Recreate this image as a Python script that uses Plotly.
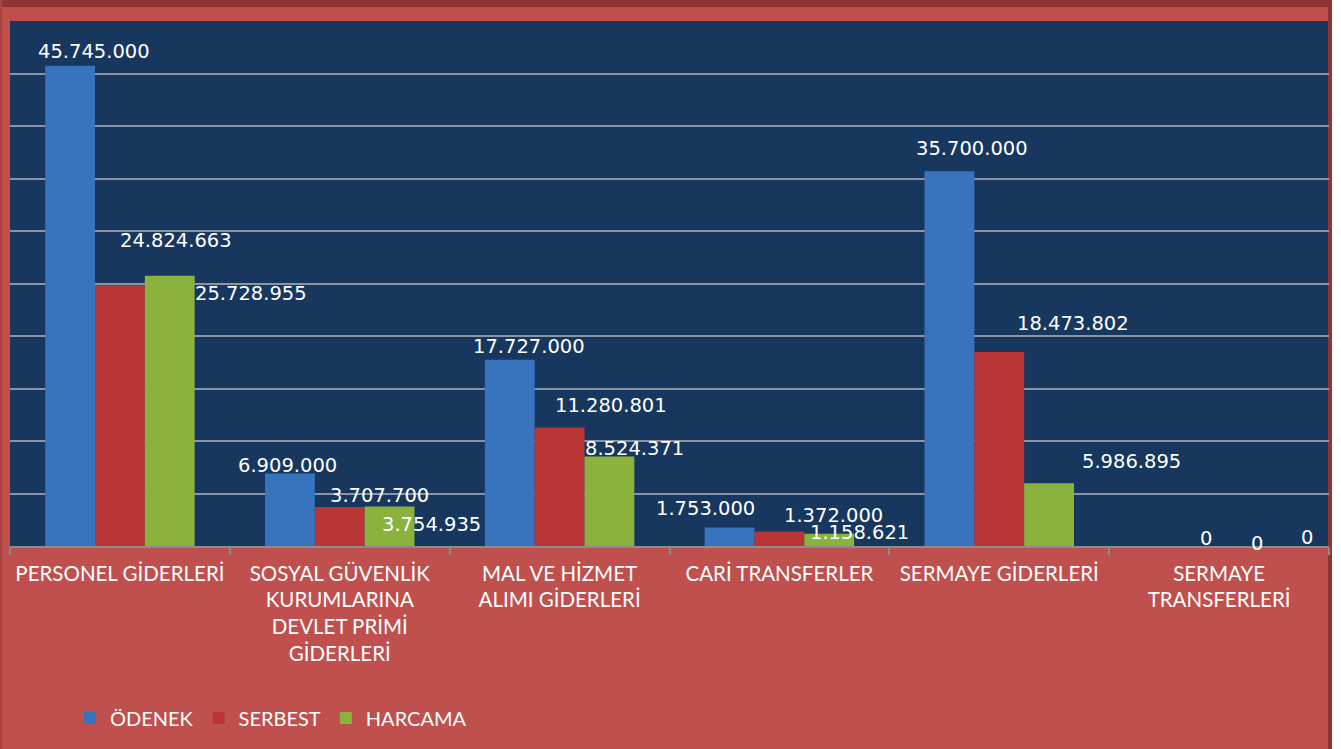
import plotly.graph_objects as go

categories = [
    "PERSONEL GİDERLERİ",
    "SOSYAL GÜVENLİK<br>KURUMLARINA<br>DEVLET PRİMİ<br>GİDERLERİ",
    "MAL VE HİZMET<br>ALIMI GİDERLERİ",
    "CARİ TRANSFERLER",
    "SERMAYE GİDERLERİ",
    "SERMAYE<br>TRANSFERLERİ",
]
series_names = ["ÖDENEK", "SERBEST", "HARCAMA"]
odenek = [45745000, 6909000, 17727000, 1753000, 35700000, 0]
serbest = [24824663, 3707700, 11280801, 1372000, 18473802, 0]
harcama = [25728955, 3754935, 8524371, 1158621, 5986895, 0]
series_values = [odenek, serbest, harcama]

colors = ["#3873BE", "#BA3634", "#8BB23D"]

# label placement offsets (pixels) relative to each bar's top-centre
label_dx = [
    [23, -3, 18, -25, 22, 36],
    [56, 40, 51, 54, 74, 38],
    [82, 43, 26, 31, 83, 39],
]
label_dy = [
    [14, 8, 13, 19, 23, 8],
    [45, 12, 22, 16, 29, 3],
    [-18, -18, 8, 1, 22, 9],
]
bar_shift = [-49, 0, 49]


def fmt(v):
    return f"{v:,}".replace(",", ".")


fig = go.Figure()
for name, vals, col in zip(series_names, series_values, colors):
    fig.add_trace(go.Bar(
        name=name, x=categories, y=vals,
        marker=dict(color=col, line=dict(width=0)),
        hoverinfo="skip",
    ))

annotations = []
for i, vals in enumerate(series_values):
    for j, v in enumerate(vals):
        annotations.append(dict(
            x=categories[j], y=v, xref="x", yref="y",
            text=fmt(v), showarrow=False,
            xshift=bar_shift[i] + label_dx[i][j], yshift=label_dy[i][j],
            xanchor="center", yanchor="middle",
            font=dict(family="DejaVu Sans", size=19.5, color="white"),
        ))

W, H = 1341, 749
L, R, T, B = 10, 12, 21, 203
pw, ph = W - L - R, H - T - B


def px_x(px):
    return (px - L) / pw


def px_y(py):
    return (H - B - py) / ph


shapes = [
    dict(type="rect", xref="paper", yref="paper", x0=px_x(0), x1=px_x(1332), y0=px_y(7), y1=px_y(0),
         fillcolor="#8E3533", line=dict(width=0), layer="below"),
    dict(type="rect", xref="paper", yref="paper", x0=px_x(1328), x1=px_x(1332), y0=px_y(H), y1=px_y(0),
         fillcolor="#8E3533", line=dict(width=0), layer="below"),
    dict(type="rect", xref="paper", yref="paper", x0=px_x(1332), x1=px_x(W), y0=px_y(H), y1=px_y(0),
         fillcolor="#FFFFFF", line=dict(width=0), layer="below"),
    dict(type="rect", xref="paper", yref="paper", x0=px_x(0), x1=px_x(2), y0=px_y(H), y1=px_y(0),
         fillcolor="#A94442", line=dict(width=0), layer="below"),
]

fig.update_layout(
    width=W, height=H,
    margin=dict(l=L, r=R, t=T, b=B, pad=0),
    paper_bgcolor="#C0504D",
    plot_bgcolor="#17375E",
    barmode="group",
    bargap=0.32,
    bargroupgap=0,
    font=dict(family="Lato", color="white", size=20.5),
    showlegend=True,
    legend=dict(
        orientation="h", x=px_x(70), y=px_y(718), xanchor="left", yanchor="middle",
        font=dict(family="Lato", size=20, color="white"),
        bgcolor="rgba(0,0,0,0)", itemwidth=30, traceorder="normal",
    ),
    annotations=annotations,
    shapes=shapes,
    xaxis=dict(
        type="category", tickson="boundaries", ticks="outside", ticklen=7,
        tickcolor="#8C8C8C", tickwidth=2,
        showline=True, linecolor="#8C8C8C", linewidth=2,
        showgrid=False, tickfont=dict(family="Lato", size=20.5, color="white"),
        ticklabelstandoff=8,
        fixedrange=True,
    ),
    yaxis=dict(
        range=[0, 50000000], dtick=5000000, showticklabels=False,
        showgrid=True, gridcolor="#8A96A6", gridwidth=2,
        zeroline=False, showline=False, fixedrange=True,
    ),
)

fig.write_html(
    "out.html",
    config={"displayModeBar": False},
    post_script="document.body.style.margin='0';document.body.style.padding='0';document.body.style.background='#FFFFFF';",
)
